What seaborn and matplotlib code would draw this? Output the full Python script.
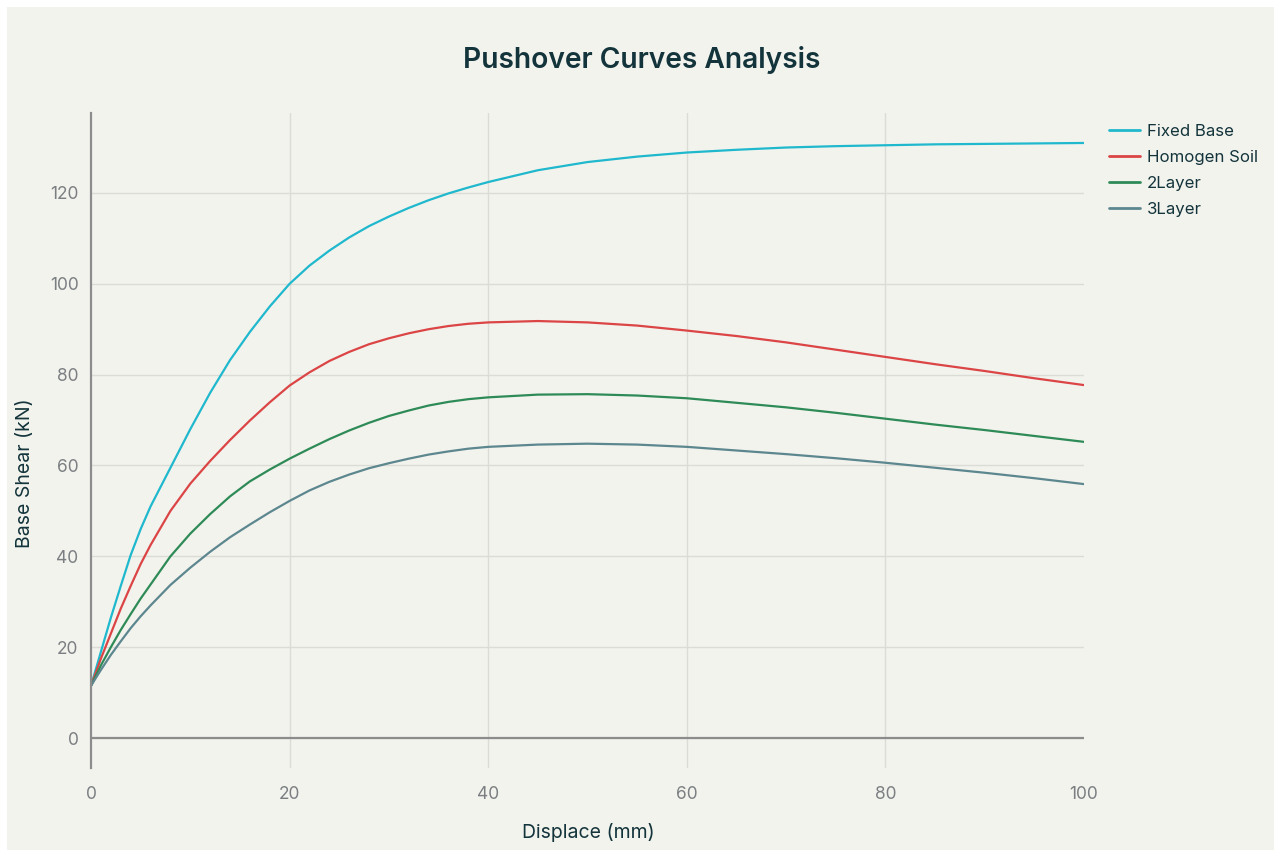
import pandas as pd
import matplotlib
matplotlib.use('Agg')
import matplotlib.pyplot as plt
import seaborn as sns
from matplotlib.patches import Rectangle

# values
displacement = [0, 1, 2, 3, 4, 5, 6, 8, 10, 12, 14, 16, 18, 20, 22, 24, 26, 28, 30,
                32, 34, 36, 38, 40, 45, 50, 55, 60, 65, 70, 75, 80, 85, 90, 95, 100]
fixed_base = [11.5, 19, 26.5, 33.5, 40.3, 46, 51, 59.5, 68, 76, 83.2, 89.4, 95.0, 100,
              104, 107.3, 110.2, 112.7, 114.8, 116.7, 118.4, 119.9, 121.2, 122.4,
              125.0, 126.8, 128.0, 128.9, 129.5, 130.0, 130.3, 130.5, 130.7, 130.8, 130.9, 131.0]
homogen_soil = [11.5, 17.5, 23, 28.5, 33.5, 38.3, 42.5, 50, 56, 61, 65.6, 69.9, 73.9, 77.6,
                80.5, 83.0, 85.0, 86.7, 88.0, 89.1, 90.0, 90.7, 91.2, 91.5,
                91.8, 91.5, 90.8, 89.7, 88.5, 87.1, 85.5, 83.9, 82.3, 80.8, 79.2, 77.7]
layer2 = [11.5, 16, 20, 23.8, 27.3, 30.7, 33.8, 40, 45, 49.3, 53.2, 56.5, 59.1, 61.5,
          63.7, 65.8, 67.7, 69.4, 70.9, 72.1, 73.2, 74.0, 74.6, 75.0,
          75.6, 75.7, 75.4, 74.8, 73.8, 72.8, 71.6, 70.3, 69.0, 67.8, 66.5, 65.2]
layer3 = [11.5, 15, 18.3, 21.3, 24.2, 26.8, 29.2, 33.7, 37.5, 41, 44.2, 47, 49.7, 52.2,
          54.5, 56.4, 58.0, 59.4, 60.5, 61.5, 62.4, 63.1, 63.7, 64.1,
          64.6, 64.8, 64.6, 64.1, 63.3, 62.5, 61.6, 60.6, 59.5, 58.4, 57.2, 55.9]

series_names = ['Fixed Base', 'Homogen Soil', '2Layer', '3Layer']
colors = ['#1FB8CD', '#DB4545', '#2E8B57', '#5D878F']

df = pd.DataFrame({'Displace (mm)': displacement,
                   'Fixed Base': fixed_base,
                   'Homogen Soil': homogen_soil,
                   '2Layer': layer2,
                   '3Layer': layer3})
long_df = df.melt(id_vars='Displace (mm)', var_name='Series', value_name='Base Shear (kN)')

sns.set_theme(style='white')
plt.rcParams['font.family'] = ['Inter', 'DejaVu Sans']

bg = '#F3F3EE'
dark = '#13343B'
tick_grey = '#7B7F82'

W, H = 1274, 850
fig = plt.figure(figsize=(W / 100, H / 100), dpi=100, facecolor='white')
fig.patches.append(Rectangle((7 / W, 0), 1, 1 - 7 / H, transform=fig.transFigure,
                             facecolor=bg, edgecolor='none', zorder=-10))

ax = fig.add_axes([91 / W, 1 - 768 / H, (1084 - 91) / W, (768 - 113) / H])
ax.set_facecolor('none')

sns.lineplot(data=long_df, x='Displace (mm)', y='Base Shear (kN)', hue='Series',
             hue_order=series_names, palette=colors, linewidth=1.6, ax=ax)

ax.set_xlim(0, 100)
ax.set_ylim(-6.6, 137.6)
ax.set_xticks([0, 20, 40, 60, 80, 100])
ax.set_yticks([0, 20, 40, 60, 80, 100, 120])

# grid
ax.yaxis.grid(True, color='#DCDCD6', linewidth=1)
ax.xaxis.grid(False)
for xv in [20, 40, 60, 80]:
    ax.axvline(xv, color='#DCDCD6', linewidth=1, zorder=0)
ax.axhline(0, color='#8C8C8C', linewidth=1.6, zorder=1)
ax.set_axisbelow(True)

for s in ['top', 'right', 'bottom']:
    ax.spines[s].set_visible(False)
ax.spines['left'].set_color('#8C8C8C')
ax.spines['left'].set_linewidth(1.6)

ax.tick_params(axis='both', length=5, width=1, color='#DCDCD6',
               labelcolor=tick_grey, labelsize=12.5)
ax.tick_params(axis='y', pad=4)
ax.tick_params(axis='x', pad=8)

ax.set_xlabel('')
ax.set_ylabel('')
fig.text(588 / W, 1 - 832 / H, 'Displace (mm)', ha='center', va='center',
         fontsize=14, color=dark)
fig.text(25 / W, 1 - 473 / H, 'Base Shear (kN)', ha='center', va='center',
         rotation=90, fontsize=14, color=dark)
fig.text(642 / W, 1 - 60 / H, 'Pushover Curves Analysis', ha='center', va='center',
         fontsize=20.3, color=dark, fontweight='semibold')

leg = ax.legend(loc='upper left', bbox_to_anchor=(1109 / W, 1 - 124 / H),
                bbox_transform=fig.transFigure, frameon=False, fontsize=12.1,
                handlelength=1.85, handletextpad=0.4, labelspacing=0.66,
                borderpad=0, borderaxespad=0)
for t in leg.get_texts():
    t.set_color(dark)
for line in leg.get_lines():
    line.set_linewidth(2)

fig.savefig('out.png', dpi=100, facecolor=fig.get_facecolor())
